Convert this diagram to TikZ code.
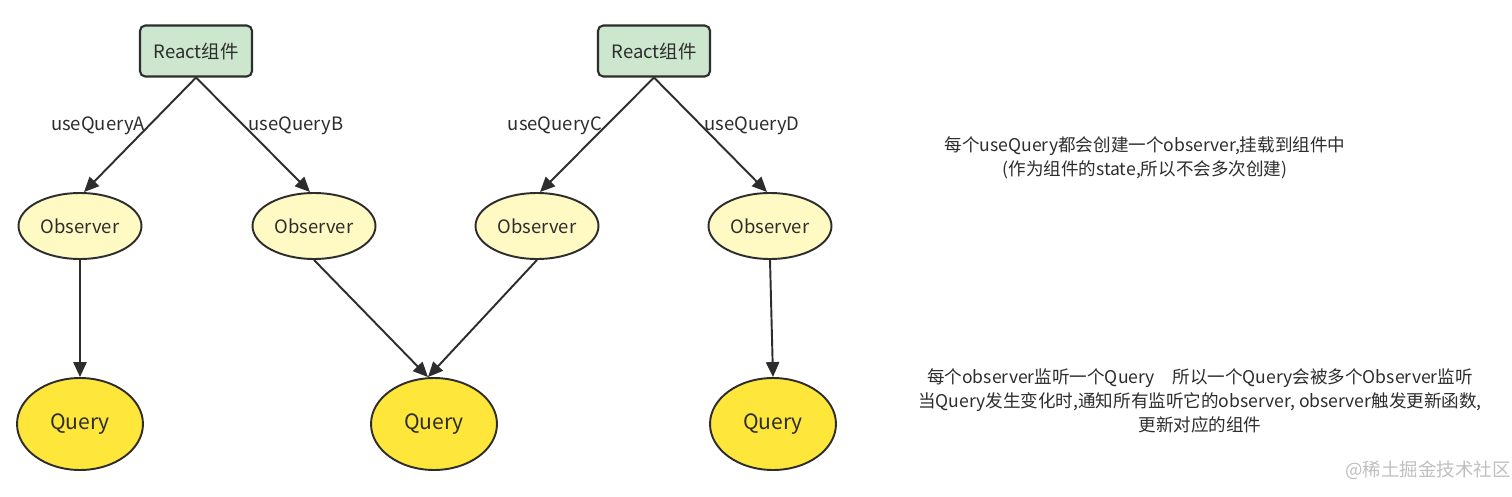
\documentclass[tikz,border=0pt]{standalone}
\usepackage{fontspec}
\setmainfont{Noto Sans CJK SC}
\usetikzlibrary{arrows.meta,calc,shapes.geometric}
\definecolor{reactgreen}{RGB}{204,231,206}
\definecolor{obsyellow}{RGB}{255,249,196}
\definecolor{qryyellow}{RGB}{254,230,58}
\definecolor{inkgray}{RGB}{45,45,45}
\tikzset{
	react/.style={draw=inkgray, line width=1.2pt, rounded corners=3pt, fill=reactgreen,
		minimum width=2.24cm, minimum height=1.02cm, font=\fontsize{10.5}{12}\selectfont, text=inkgray},
	observer/.style={draw=inkgray, line width=1.1pt, ellipse, fill=obsyellow,
		minimum width=2.46cm, minimum height=1.32cm, inner sep=0pt, font=\fontsize{10.5}{12}\selectfont, text=inkgray},
	query/.style={draw=inkgray, line width=1.1pt, ellipse, fill=qryyellow,
		minimum width=2.52cm, minimum height=1.84cm, inner sep=0pt, font=\fontsize{12}{14}\selectfont, text=inkgray},
	link/.style={draw=inkgray, line width=1.1pt, -{Triangle[length=8.5pt,width=7.5pt]}},
	hooklabel/.style={font=\fontsize{10.5}{12}\selectfont, text=inkgray, inner sep=0pt},
	note/.style={font=\fontsize{10}{13.6}\selectfont, text=inkgray, align=center, inner sep=0pt}
}

\begin{document}
\begin{tikzpicture}[x=0.02cm, y=-0.02cm]
			%%%%% START %%%%%
			\useasboundingbox[fill=white] (0, 0) rectangle (1512, 497);
			
			\node[react] (compA) at (196, 51) {React组件};
			\node[react] (compB) at (654, 51) {React组件};
			
			\node[observer] (obsA) at (80, 226) {Observer};
			\node[observer] (obsB) at (314, 226) {Observer};
			\node[observer] (obsC) at (537, 226) {Observer};
			\node[observer] (obsD) at (770, 226) {Observer};
			
			\node[query] (qryA) at (80, 424) {Query};
			\node[query] (qryB) at (434, 424) {Query};
			\node[query] (qryD) at (773, 424) {Query};
			
			\draw[link] (compA.south) -- ($(obsA.north)+(4, 0)$);
			\draw[link] (compA.south) -- ($(obsB.north)+(-4, 0)$);
			\draw[link] (compB.south) -- ($(obsC.north)+(3, 0)$);
			\draw[link] (compB.south) -- ($(obsD.north)+(-3, 0)$);
			
			\node[hooklabel] (hookA) at (98, 126) {useQueryA};
			\node[hooklabel] (hookB) at (296, 126) {useQueryB};
			\node[hooklabel] (hookC) at (555, 126) {useQueryC};
			\node[hooklabel] (hookD) at (752, 126) {useQueryD};
			
			\draw[link] (obsA.south) -- (qryA.north);
			\draw[link] (obsB.south) -- ($(qryB.north)+(-6, 0)$);
			\draw[link] (obsC.south) -- ($(qryB.north)+(-6, 0)$);
			\draw[link] (obsD.south) -- (qryD.north);
			
			\node[note] (noteTop) at (1145, 158) {每个useQuery都会创建一个observer,挂载到组件中\\(作为组件的state,所以不会多次创建)};
			\node[note] (noteBottom) at (1200, 401) {每个observer监听一个Query\quad 所以一个Query会被多个Observer监听\\当Query发生变化时,通知所有监听它的observer, observer触发更新函数,\\更新对应的组件};
			
			\node[font=\fontsize{10.5}{12}\selectfont, text=black!25, inner sep=0pt] (mark) at (1428, 470) {@稀土掘金技术社区};
			%%%%% END %%%%%
\end{tikzpicture}
\end{document}
